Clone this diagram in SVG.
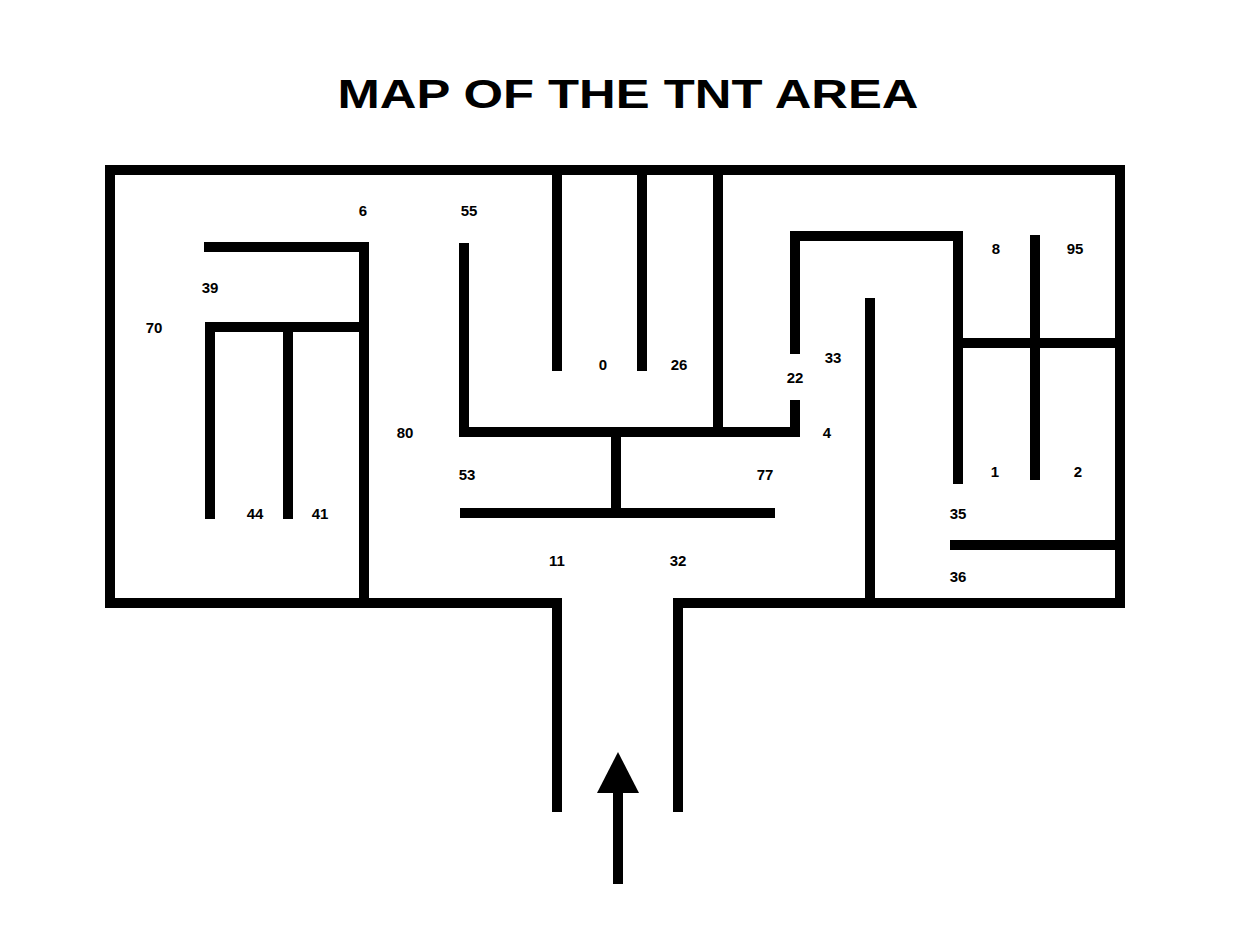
<svg xmlns="http://www.w3.org/2000/svg" width="1248" height="934" viewBox="0 0 1248 934">
<style>
.w{stroke:#000;stroke-width:10;fill:none;stroke-linecap:butt}
.l{font-family:"Liberation Sans",Arial,sans-serif;font-weight:bold;font-size:15px;text-anchor:middle}
</style>
<rect width="1248" height="934" fill="#fff"/>
<text x="628" y="108" font-family="Liberation Sans, Arial, sans-serif" font-weight="bold" font-size="40" text-anchor="middle" textLength="581" lengthAdjust="spacingAndGlyphs">MAP OF THE TNT AREA</text>
<g id="walls" class="w">
<path d="M558 603H110V170H1120V603H677"/>
<path d="M557 598V812M678 598V812"/>
<path d="M204 247H369M364 247V603M205 327H364M210 327V519M288 327V519"/>
<path d="M464 243V432M459 432H800M557 170V371M642 170V371M718 170V432M616 432V513M460 513H775"/>
<path d="M795 400V437M795 354V236M790 236H963M958 236V484M870 298V603M958 343H1120M1035 235V480M950 545H1120"/>
</g>
<g id="arrow">
<path d="M618 790V884" stroke="#000" stroke-width="10"/>
<polygon points="597,793 618,752 639,793" fill="#000"/>
</g>
<g id="labels" class="l">
<text x="363" y="216">6</text><text x="469" y="216">55</text><text x="210" y="293">39</text><text x="154" y="333">70</text>
<text x="603" y="370">0</text><text x="679" y="370">26</text><text x="833" y="363">33</text><text x="795" y="383">22</text>
<text x="405" y="438">80</text><text x="827" y="438">4</text><text x="996" y="254">8</text><text x="1075" y="254">95</text>
<text x="467" y="480">53</text><text x="765" y="480">77</text><text x="995" y="477">1</text><text x="1078" y="477">2</text>
<text x="255" y="519">44</text><text x="320" y="519">41</text><text x="958" y="519">35</text>
<text x="557" y="566">11</text><text x="678" y="566">32</text><text x="958" y="582">36</text>
</g>
</svg>
